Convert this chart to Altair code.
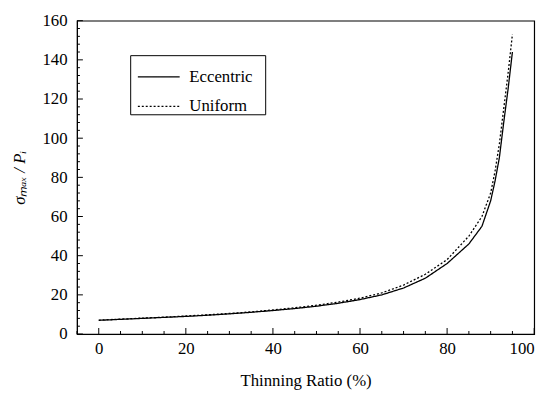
import altair as alt
import pandas as pd

x_vals = [0, 5, 10, 15, 20, 25, 30, 35, 40, 45, 50, 55, 60, 65, 70, 75, 80, 85, 88, 90, 91, 92, 93, 94, 95]
eccentric = [7.0, 7.5, 8.0, 8.5, 9.0, 9.6, 10.3, 11.1, 12.0, 13.0, 14.2, 15.7, 17.6, 20.0, 23.5, 28.5,
             36.0, 46.0, 55.0, 68.0, 78.0, 90.0, 108.0, 125.0, 144.0]
uniform = [7.1, 7.6, 8.1, 8.6, 9.2, 9.8, 10.5, 11.3, 12.3, 13.4, 14.7, 16.3, 18.3, 21.0, 25.0, 30.5,
           38.0, 50.0, 60.0, 72.0, 83.0, 97.0, 115.0, 133.0, 153.0]
series_names = ["Eccentric", "Uniform"]

x_major = [0, 20, 40, 60, 80, 100]
x_minor = [v for v in range(-5, 101, 5) if v not in x_major]
y_major = [0, 20, 40, 60, 80, 100, 120, 140, 160]
y_minor = [v for v in range(0, 161, 4) if v not in y_major]

rows = []
for name, ys in zip(series_names, [eccentric, uniform]):
    for xv, yv in zip(x_vals, ys):
        rows.append({"ratio": xv, "value": yv, "series": name})
df = pd.DataFrame(rows)

FONT = "Liberation Serif, Times New Roman, serif"
W, H = 464, 318
XMIN, XMAX, YMIN, YMAX = -5, 100, 0, 160
MAJOR_PX, MINOR_PX = 6, 3

xscale = alt.Scale(domain=[XMIN, XMAX], nice=False, zero=False)
yscale = alt.Scale(domain=[YMIN, YMAX], nice=False)

x_axis = alt.Axis(values=x_major, title="Thinning Ratio (%)", ticks=False, orient="bottom",
                  labelPadding=7, titlePadding=16, grid=False, labelOverlap=False, zindex=0)
y_axis = alt.Axis(values=y_major, title="σₘₐₓ / Pᵢ", ticks=False, orient="left",
                  labelPadding=10, titlePadding=14, grid=False, labelOverlap=False,
                  titleFontStyle="italic", zindex=0)

lines = alt.Chart(df).mark_line(color="black", strokeWidth=1.3).encode(
    x=alt.X("ratio:Q", scale=xscale, axis=x_axis),
    y=alt.Y("value:Q", scale=yscale, axis=y_axis),
    strokeDash=alt.StrokeDash(
        "series:N",
        scale=alt.Scale(domain=series_names, range=[[1, 0], [2, 2]]),
        legend=alt.Legend(title="\u00a0", titleOrient="right", titlePadding=13, titleFontSize=10,
                          orient="none", legendX=54, legendY=35,
                          symbolType="stroke", symbolSize=1800, symbolStrokeColor="black",
                          symbolStrokeWidth=1.3, labelFontSize=17, labelFont=FONT,
                          labelColor="black", strokeColor="black", padding=0,
                          rowPadding=-4, labelOffset=9, symbolOffset=7),
    ),
    order="ratio:Q",
)

# tick sizes converted from pixels to data units of the shared scales
PX_X = (XMAX - XMIN) / W   # data units per pixel horizontally
PX_Y = (YMAX - YMIN) / H   # data units per pixel vertically

tx = pd.DataFrame({"v": x_major + x_minor,
                   "len": [MAJOR_PX * PX_Y] * len(x_major) + [MINOR_PX * PX_Y] * len(x_minor)})
ty = pd.DataFrame({"v": y_major + y_minor,
                   "len": [MAJOR_PX * PX_X] * len(y_major) + [MINOR_PX * PX_X] * len(y_minor)})

xticks = alt.Chart(tx).transform_calculate(
    xa=f"datum.v - {0.5 * PX_X}", xb=f"datum.v + {0.5 * PX_X}",
    y0=f"{YMIN}", y1=f"{YMIN} + datum.len",
).mark_rect(color="black", opacity=1).encode(
    x=alt.X("xa:Q", scale=xscale, axis=None),
    x2="xb:Q",
    y=alt.Y("y0:Q", scale=yscale, axis=None),
    y2="y1:Q",
)
yticks = alt.Chart(ty).transform_calculate(
    ya=f"datum.v - {0.5 * PX_Y}", yb=f"datum.v + {0.5 * PX_Y}",
    x0=f"{XMIN}", x1=f"{XMIN} + datum.len",
).mark_rect(color="black", opacity=1).encode(
    y=alt.Y("ya:Q", scale=yscale, axis=None),
    y2="yb:Q",
    x=alt.X("x0:Q", scale=xscale, axis=None),
    x2="x1:Q",
)

chart = alt.layer(xticks, yticks, lines).resolve_axis(
    x="independent", y="independent"
).properties(
    width=W, height=H,
    autosize=alt.AutoSizeParams(type="none"),
    padding={"left": 70, "top": 10, "right": 13, "bottom": 58},
    background="white",
).configure_view(stroke="black", strokeWidth=1.2).configure_axis(
    domainColor="black", labelFont=FONT, titleFont=FONT, labelFontSize=17, titleFontSize=17,
    labelColor="black", titleColor="black", titleFontWeight="normal",
)

chart.save("out.html", embed_options={"renderer": "svg", "actions": False})
